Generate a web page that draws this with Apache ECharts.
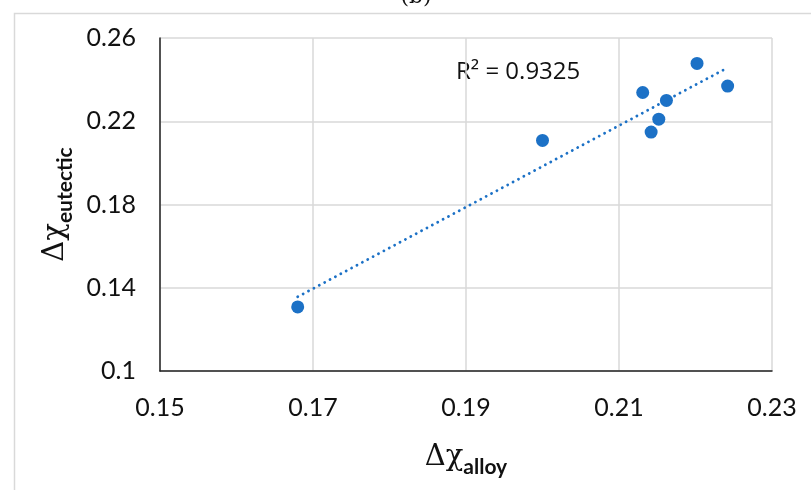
<!DOCTYPE html>
<html><head><meta charset="utf-8">
<script src="https://cdn.jsdelivr.net/npm/echarts@6/dist/echarts.min.js"></script>
<style>html,body{margin:0;padding:0;background:#fff}#c{width:811px;height:490px}</style>
</head><body><div id="c"></div>
<script>
const alloyX = [0.168, 0.200, 0.2202, 0.2242, 0.2131, 0.2162, 0.2152, 0.2142];
const eutecticY = [0.1308, 0.2108, 0.2478, 0.2369, 0.2338, 0.2300, 0.2210, 0.2148];
const xTicks = [0.15, 0.17, 0.19, 0.21, 0.23];
const yTicks = [0.1, 0.14, 0.18, 0.22, 0.26];
const r2Text = 'R\u00B2 = 0.9325';

const pts = alloyX.map((x, i) => [x, eutecticY[i]]);
// least-squares linear trendline over the data range
const n = alloyX.length;
const mx = alloyX.reduce((a, b) => a + b, 0) / n;
const my = eutecticY.reduce((a, b) => a + b, 0) / n;
let sxy = 0, sxx = 0;
for (let i = 0; i < n; i++) { sxy += (alloyX[i] - mx) * (eutecticY[i] - my); sxx += (alloyX[i] - mx) ** 2; }
const slope = sxy / sxx, icpt = my - slope * mx;
const xmin = Math.min(...alloyX), xmax = Math.max(...alloyX);
const trend = [[xmin, icpt + slope * xmin], [xmax, icpt + slope * xmax]];

const blue = '#1C71C6';
const labelFont = { fontFamily: 'Lato', fontSize: 25, color: '#111', margin: 24,
  formatter: v => String(parseFloat(v.toFixed(2))) };
const nameRich = {
  d: { fontFamily: 'DejaVu Serif', fontSize: 29, color: '#111', verticalAlign: 'bottom' },
  s: { fontFamily: 'Lato', fontWeight: 'bold', fontSize: 21, color: '#111', verticalAlign: 'bottom', padding: [0,0,-6,0] }
};
const chart = echarts.init(document.getElementById('c'));
chart.setOption({
  animation: false,
  grid: { left: 160, right: 39, top: 38, bottom: 119 },
  xAxis: {
    type: 'value', min: xTicks[0], max: xTicks[xTicks.length - 1], interval: 0.02,
    axisLine: { show: true, onZero: false, lineStyle: { color: '#222', width: 1.5 } },
    axisTick: { show: false },
    splitLine: { show: true, lineStyle: { color: '#d9d9d9', width: 1.5 } },
    axisLabel: labelFont,
    name: '{d|\u0394\u03C7}{s|alloy}', nameLocation: 'middle', nameGap: 72,
    nameTextStyle: { rich: nameRich }
  },
  yAxis: {
    type: 'value', min: yTicks[0], max: yTicks[yTicks.length - 1], interval: 0.04,
    axisLine: { show: true, onZero: false, lineStyle: { color: '#222', width: 1.5 } },
    axisTick: { show: false },
    splitLine: { show: true, lineStyle: { color: '#d9d9d9', width: 1.5 } },
    axisLabel: labelFont,
    name: '{d|\u0394\u03C7}{s|eutectic}', nameLocation: 'middle', nameGap: 88, nameRotate: 90,
    nameTextStyle: { rich: nameRich }
  },
  series: [
    { type: 'line', data: trend, symbol: 'none', silent: true,
      lineStyle: { color: blue, width: 2.8, type: [0.1, 6], cap: 'round' }, z: 2 },
    { type: 'scatter', data: pts, symbol: 'circle', symbolSize: 13,
      itemStyle: { color: blue, opacity: 1 }, z: 3 }
  ],
  graphic: [
    { type: 'rect', left: 12, top: 11, shape: { width: 900, height: 600 },
      style: { fill: 'none', stroke: '#d9d9d9', lineWidth: 1.5 }, silent: true, z: -10 },
    { type: 'text', x: 416, y: 8, style: { text: '(b)', font: '22px "DejaVu Serif"', fill: '#111',
      textAlign: 'center', textVerticalAlign: 'bottom' } },
    { type: 'text', x: 456, y: 72, style: { text: r2Text, font: '24px "Open Sans"', fill: '#111',
      textAlign: 'left', textVerticalAlign: 'middle' } }
  ]
});
</script></body></html>
